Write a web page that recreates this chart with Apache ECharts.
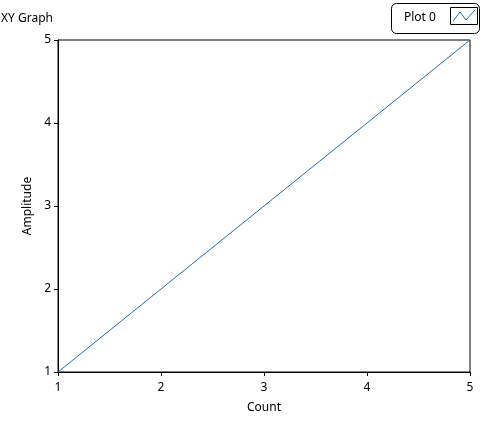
<!DOCTYPE html>
<html><head><meta charset="utf-8">
<script src="https://cdn.jsdelivr.net/npm/echarts@6/dist/echarts.min.js"></script>
<style>html,body{margin:0;padding:0;background:#fff}#c{width:495px;height:426px}</style>
</head><body><div id="c"></div>
<script>
const xValues = [1, 2, 3, 4, 5];
const yValues = [1, 2, 3, 4, 5];
const seriesName = 'Plot 0';
const titleText = 'XY Graph';
const xAxisName = 'Count';
const yAxisName = 'Amplitude';

const font = 'Noto Sans';
const chart = echarts.init(document.getElementById('c'), null, {renderer: 'canvas'});
chart.setOption({
  animation: false,
  backgroundColor: '#fff',
  title: {text: titleText, left: 1, top: 13, padding: 0, textStyle: {fontFamily: font, fontSize: 12, fontWeight: 'normal', color: '#000'}},
  grid: {left: 58, right: 25, top: 40, bottom: 54, show: true, borderColor: '#000', borderWidth: 1, backgroundColor: 'transparent'},
  xAxis: {
    type: 'value', min: 1, max: 5, interval: 1,
    name: xAxisName, nameLocation: 'middle', nameGap: 30,
    nameTextStyle: {fontFamily: font, fontSize: 12, color: '#000'},
    axisLine: {show: true, lineStyle: {color: '#000'}},
    axisTick: {show: true, length: 4, lineStyle: {color: '#000'}},
    axisLabel: {fontFamily: font, fontSize: 12, color: '#000', margin: 10},
    splitLine: {show: false}
  },
  yAxis: {
    type: 'value', min: 1, max: 5, interval: 1,
    name: yAxisName, nameLocation: 'middle', nameGap: 17, nameRotate: 90,
    nameTextStyle: {fontFamily: font, fontSize: 12, color: '#000'},
    axisLine: {show: true, lineStyle: {color: '#000'}},
    axisTick: {show: true, length: 4, lineStyle: {color: '#000'}},
    axisLabel: {fontFamily: font, fontSize: 12, color: '#000', margin: 7},
    splitLine: {show: false}
  },
  series: [{
    name: seriesName, type: 'line', showSymbol: false,
    data: xValues.map((x, i) => [x, yValues[i]]),
    lineStyle: {color: '#1f6eb6', width: 1},
    itemStyle: {color: '#1f6eb6'}
  }],
  graphic: [
    {type: 'rect', shape: {x: 391.5, y: 3.5, width: 88, height: 30, r: 5}, style: {fill: '#fff', stroke: '#000', lineWidth: 1}},
    {type: 'text', style: {text: seriesName, x: 404, y: 18, verticalAlign: 'middle', font: '12px "Noto Sans"', fill: '#000'}},
    {type: 'rect', shape: {x: 450.5, y: 7.5, width: 27, height: 17}, style: {fill: '#fff', stroke: '#000', lineWidth: 1}},
    {type: 'polyline', shape: {points: [[453, 21], [460, 12], [466, 20], [475, 10]]}, style: {fill: 'none', stroke: '#1f6eb6', lineWidth: 1}}
  ]
});
</script></body></html>
